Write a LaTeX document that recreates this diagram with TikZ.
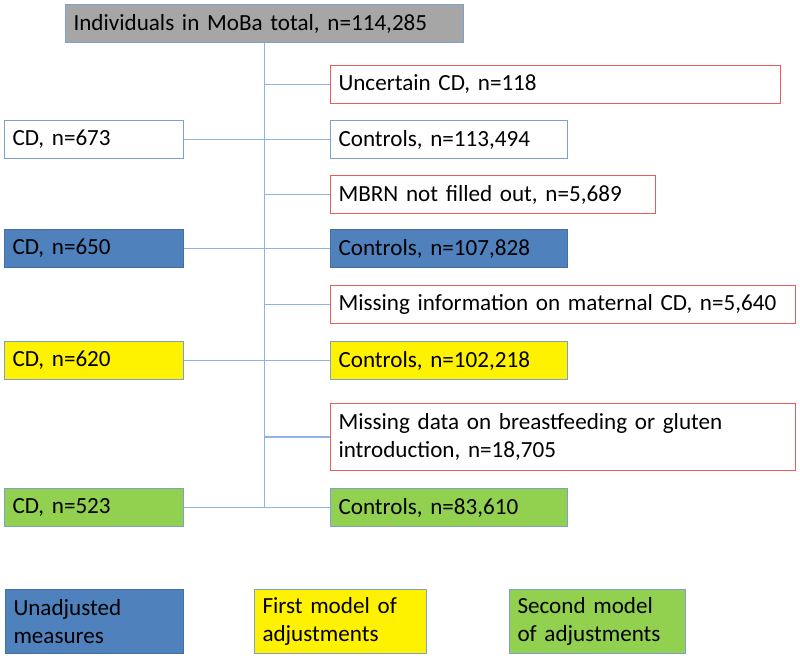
\documentclass[tikz,border=0pt]{standalone}
\usepackage{fontspec}
\setmainfont{Carlito}
\usepackage{xcolor}
\usetikzlibrary{positioning, calc}

\definecolor{linkblue}{HTML}{8EB4E3}
\definecolor{edgeblue}{HTML}{7F9FCF}
\definecolor{darkedge}{HTML}{41719C}
\definecolor{fillblue}{HTML}{4F81BD}
\definecolor{fillgray}{HTML}{A6A6A6}
\definecolor{fillgreen}{HTML}{92D050}
\definecolor{exclred}{HTML}{EE5A5A}

\begin{document}
\begin{tikzpicture}[x=1bp, y=-1bp,
    box/.style={draw=edgeblue, line width=1bp, anchor=north west, minimum height=38bp, inner xsep=8bp, inner ysep=0pt, align=left, text width=#1, font=\fontsize{23.2}{28}\selectfont},
    excl/.style={box=#1, draw=exclred},
    unadj/.style={fill=fillblue, draw=darkedge},
    firstadj/.style={fill=yellow},
    secondadj/.style={fill=fillgreen},
    link/.style={draw=linkblue, line width=1.3bp}
]
    \useasboundingbox (0,0) rectangle (800,660);

    \node[box=382bp, fill=fillgray] (total) at (65,4) {Individuals in MoBa total, n=114,285};
    \node[excl=434bp] (uncertain) at (330,65) {Uncertain CD, n=118};
    \node[box=163bp] (cd673) at (4,120) {CD, n=673};
    \node[box=221bp] (ctl673) at (330,120) {Controls, n=113,494};
    \node[excl=309bp] (mbrn) at (330,175) {MBRN not filled out, n=5,689};
    \node[box=163bp, unadj] (cd650) at (4,229) {CD, n=650};
    \node[box=221bp, unadj] (ctl650) at (330,229) {Controls, n=107,828};
    \node[excl=449bp] (maternal) at (330,285) {Missing information on maternal CD, n=5,640};
    \node[box=163bp, firstadj] (cd620) at (4,341) {CD, n=620};
    \node[box=221bp, firstadj] (ctl620) at (330,341) {Controls, n=102,218};
    \node[excl=449bp, minimum height=67bp] (feeding) at (330,403) {Missing data on breastfeeding or gluten\\introduction, n=18,705};
    \node[box=163bp, secondadj] (cd523) at (4,488) {CD, n=523};
    \node[box=221bp, secondadj] (ctl523) at (330,488) {Controls, n=83,610};

    % legend
    \node[box=162bp, minimum height=64bp, unadj] (legunadj) at (5,589) {Unadjusted\\measures};
    \node[box=156bp, minimum height=64bp, firstadj] (legfirst) at (254,589) {First model of\\adjustments};
    \node[box=160bp, minimum height=64bp, secondadj] (legsecond) at (509,589) {Second model\\of adjustments};

    \draw[link] (total.south) -- (total.south |- cd523.east);
    \draw[link] (uncertain.west) -- (uncertain.west -| total.south);
    \draw[link] (mbrn.west) -- (mbrn.west -| total.south);
    \draw[link] (maternal.west) -- (maternal.west -| total.south);
    \draw[link] (feeding.west) -- (feeding.west -| total.south);
    \draw[link] (cd673.east) -- (ctl673.west);
    \draw[link] (cd650.east) -- (ctl650.west);
    \draw[link] (cd620.east) -- (ctl620.west);
    \draw[link] (cd523.east) -- (ctl523.west);
\end{tikzpicture}
\end{document}
